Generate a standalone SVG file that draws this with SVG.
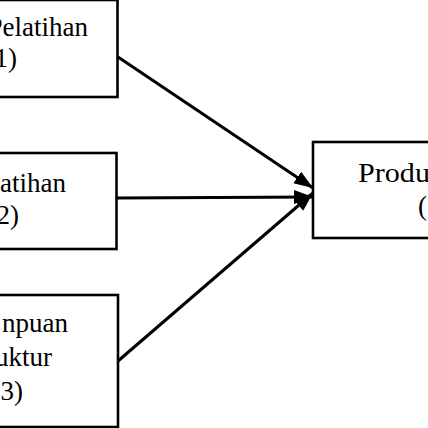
<svg xmlns="http://www.w3.org/2000/svg" width="428" height="428" viewBox="0 0 428 428">
<defs>
<style>
.box{fill:#fff;stroke:#000;stroke-width:2.6}
.t{font-family:"Liberation Serif","Times New Roman",serif;font-size:27px;fill:#000}
.e{text-anchor:end}
.c{stroke:#000;stroke-width:3;fill:none;marker-end:url(#ah)}
</style>
<marker id="ah" markerUnits="userSpaceOnUse" markerWidth="20" markerHeight="16" refX="19" refY="7" orient="auto">
<path d="M0,0 L19,7 L0,14 Z" fill="#000"/>
</marker>
</defs>
<rect width="428" height="428" fill="#fff"/>
<g id="x1">
<rect class="box" x="-20" y="0" width="137.5" height="97"/>
<text class="t e" x="88" y="36">Pelatihan</text>
<text class="t e" x="17" y="67">1)</text>
</g>
<g id="x2">
<rect class="box" x="-20" y="153" width="136.5" height="96"/>
<text class="t e" x="66" y="192">atihan</text>
<text class="t e" x="19" y="224">2)</text>
</g>
<g id="x3">
<rect class="box" x="-20" y="295" width="138" height="132"/>
<text class="t e" x="68" y="332">npuan</text>
<text class="t e" x="52" y="366">uktur</text>
<text class="t e" x="23" y="400">3)</text>
</g>
<g id="y">
<rect class="box" x="313" y="142" width="140" height="96"/>
<text class="t" x="358" y="182" textLength="72" lengthAdjust="spacingAndGlyphs">Produ</text>
<text class="t" x="418" y="215">(</text>
</g>
<g id="connectors">
<line class="c" x1="118" y1="57" x2="313" y2="188"/>
<line class="c" x1="117" y1="198" x2="313" y2="197"/>
<line class="c" x1="118" y1="361" x2="313" y2="193"/>
</g>
</svg>
